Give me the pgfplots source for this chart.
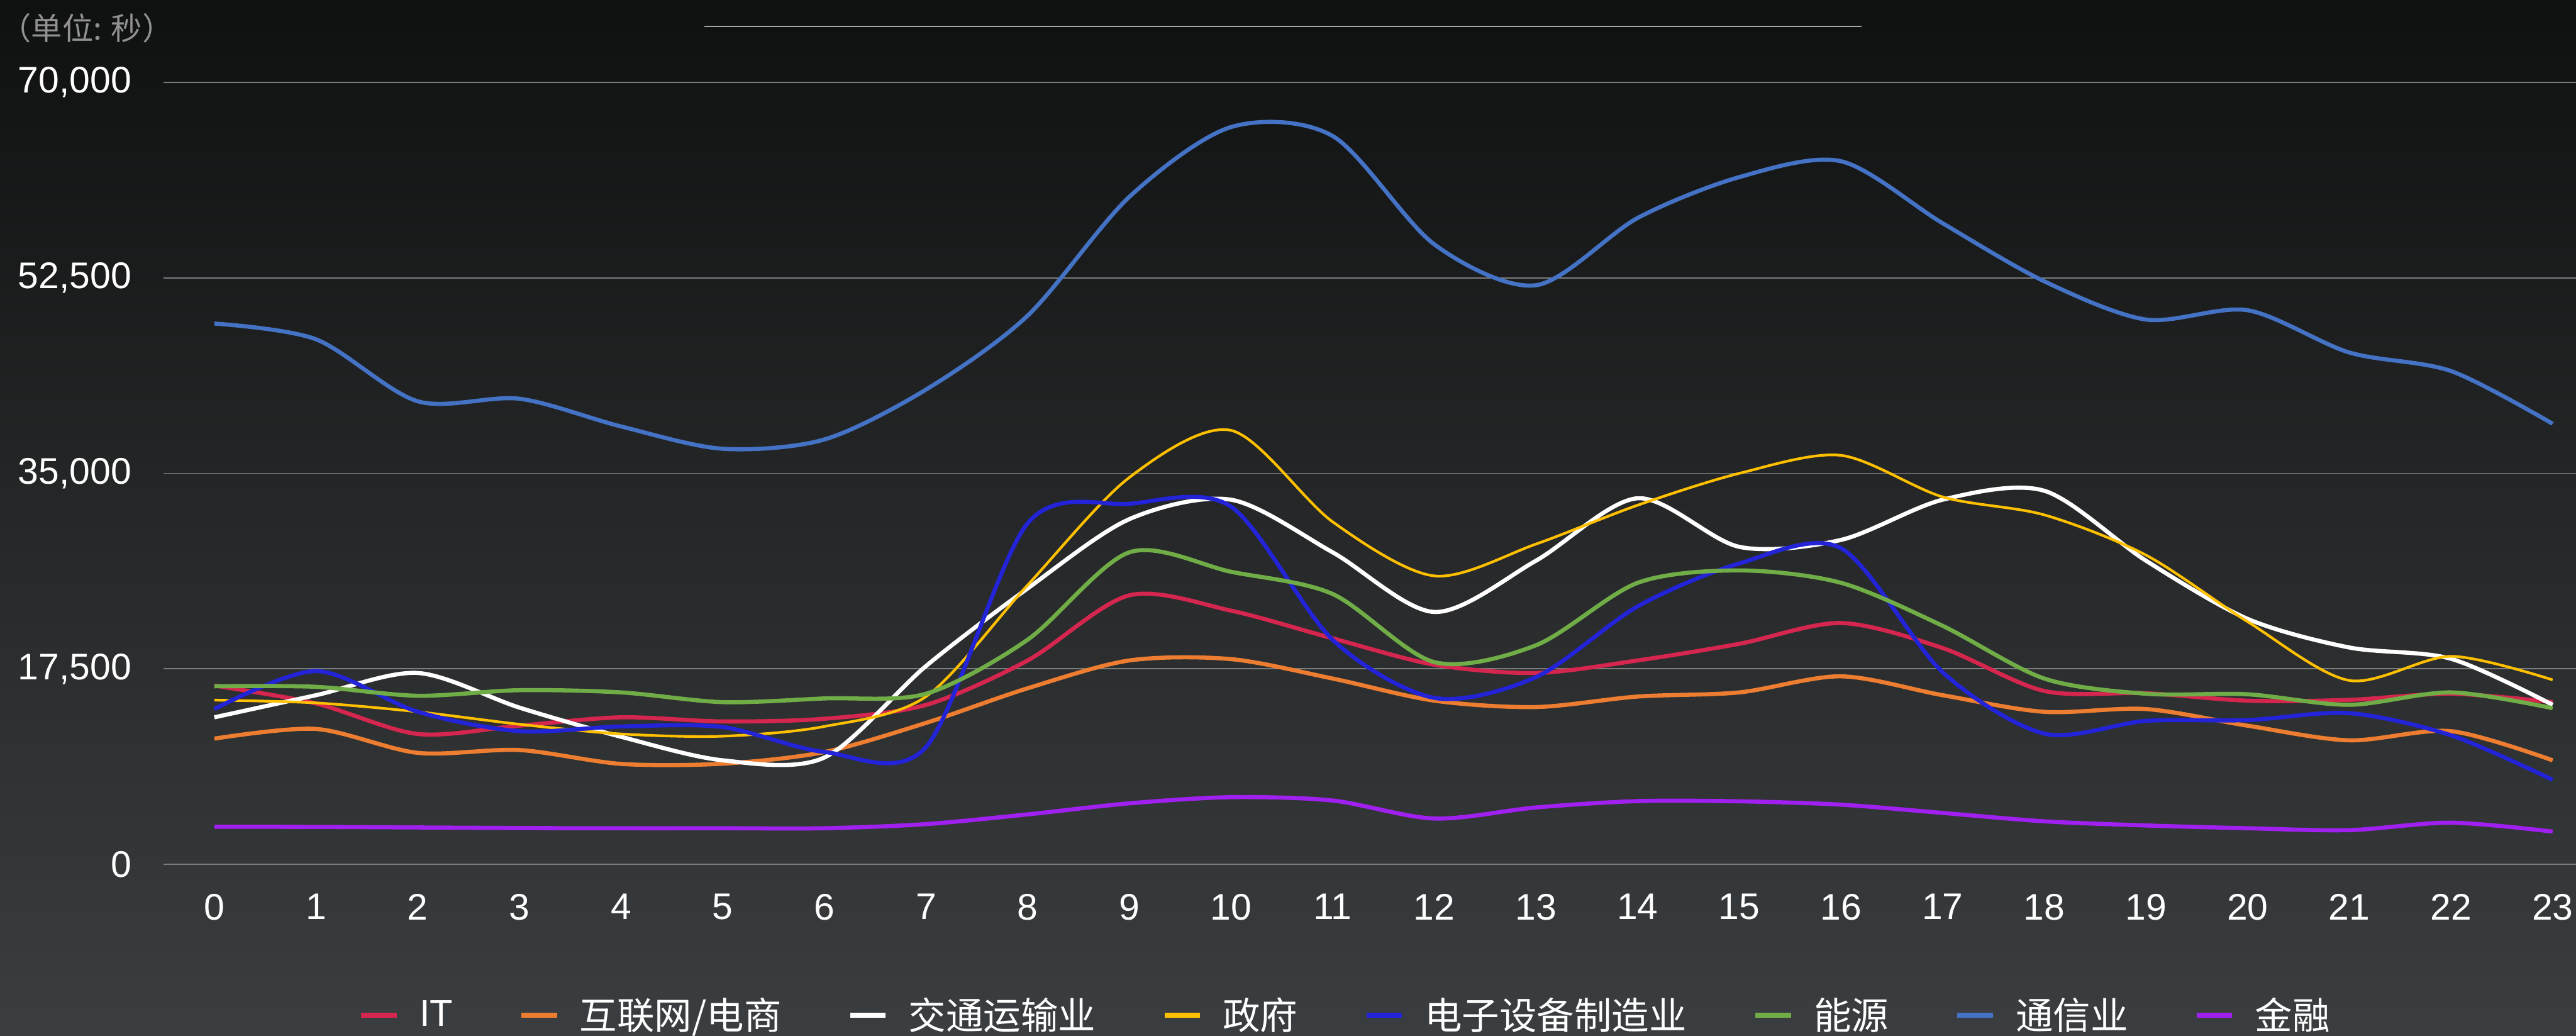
\documentclass[border=0pt]{standalone}
\usepackage{pgfplots}
\pgfplotsset{compat=1.18}
\usepackage{fontspec}
\setmainfont{Liberation Sans}
\newfontfamily\cjk{Noto Sans CJK SC}
\definecolor{cIT}{RGB}{212,38,78}
\definecolor{cNet}{RGB}{237,125,49}
\definecolor{cGov}{RGB}{255,192,0}
\definecolor{cElec}{RGB}{35,35,215}
\definecolor{cEng}{RGB}{112,173,71}
\definecolor{cTel}{RGB}{68,114,196}
\definecolor{cFin}{RGB}{160,32,240}
\definecolor{bgTop}{RGB}{15,16,16}
\definecolor{bgBot}{RGB}{59,62,64}
\definecolor{gridc}{RGB}{125,125,125}
\definecolor{unitc}{RGB}{145,145,145}
\begin{document}
\begin{tikzpicture}
\shade[top color=bgTop, bottom color=bgBot] (0,0) rectangle (43.79,17.60);
\node[anchor=west, inner sep=0pt, text=unitc, font=\cjk\fontsize{15}{18}\selectfont] at (0,17.12) {（单位: 秒）};
\draw[gray!70, line width=0.6pt] (11.97,17.15) -- (31.64,17.15);
\begin{axis}[
  at={(2.78cm,2.91cm)}, anchor=south west,
  scale only axis, width=41.01cm, height=13.29cm,
  xmin=-0.5, xmax=23.23, ymin=0, ymax=70000,
  xtick={0,...,23}, ytick={0,17500,35000,52500,70000},
  scaled y ticks=false,
  axis line style={draw=none},
  major tick length=0pt,
  ymajorgrids, grid style={gridc, line width=0.6pt},
  tick label style={text=white, font=\fontsize{17.9}{21}\selectfont, inner sep=0pt},
  /pgf/number format/assume math mode=true,
  yticklabel style={/pgf/number format/fixed, /pgf/number format/1000 sep={,}, xshift=-0.54cm},
  xticklabel style={anchor=north, yshift=-0.50cm},
  legend columns=-1,
  legend cell align=left,
  legend style={at={(axis description cs:0.081,-0.193)}, anchor=west,
    draw=none, fill=none, inner sep=0pt, outer sep=0pt,
    font=\fontsize{18.1}{21}\selectfont, text=white,
    nodes={inner sep=0pt},
    /tikz/every odd column/.append style={column sep=0.35cm},
    /tikz/every even column/.append style={column sep=1.13cm}},
  legend image code/.code={\draw[line width=0.08cm] (0cm,0cm) -- (0.6cm,0cm);},
  every axis plot/.append style={smooth, no markers, line width=0.07cm},
]
\addplot[cIT] coordinates {(0,16000)(1,14400)(2,11670)(3,12410)(4,13160)(5,12790)(6,13030)(7,14270)(8,18250)(9,24080)(10,22710)(11,20230)(12,17870)(13,17130)(14,18250)(15,19740)(16,21600)(17,19360)(18,15520)(19,15320)(20,14650)(21,14720)(22,15270)(23,14520)};
\addlegendentry{IT}
\addplot[cNet] coordinates {(0,11250)(1,12120)(2,9980)(3,10230)(4,8990)(5,9010)(6,10050)(7,12660)(8,15760)(9,18250)(10,18370)(11,16630)(12,14650)(13,14080)(14,15020)(15,15390)(16,16830)(17,15140)(18,13650)(19,13900)(20,12410)(21,11100)(22,11920)(23,9310)};
\addlegendentry{\cjk 互联网/电商}
\addplot[white] coordinates {(0,13160)(1,15140)(2,17130)(3,14030)(4,11420)(5,9310)(6,9560)(7,17750)(8,24700)(9,30900)(10,32640)(11,27930)(12,22590)(13,27180)(14,32770)(15,28420)(16,29040)(17,32640)(18,33440)(19,27180)(20,21970)(21,19410)(22,18400)(23,14280)};
\addlegendentry{\cjk 交通运输业}
\addplot[cGov, line width=0.045cm] coordinates {(0,14700)(1,14450)(2,13655)(3,12540)(4,11670)(5,11470)(6,12340)(7,15020)(8,25000)(9,34630)(10,38850)(11,30660)(12,25820)(13,28670)(14,32150)(15,35000)(16,36610)(17,32890)(18,31280)(19,27680)(20,21720)(21,16460)(22,18620)(23,16510)};
\addlegendentry{\cjk 政府}
\addplot[cElec] coordinates {(0,13900)(1,17300)(2,13660)(3,11920)(4,12340)(5,12290)(6,10060)(7,10500)(8,30530)(9,32270)(10,32020)(11,20100)(12,14900)(13,16760)(14,23090)(15,26930)(16,28300)(17,17200)(18,11700)(19,12840)(20,12910)(21,13530)(22,11550)(23,7570)};
\addlegendentry{\cjk 电子设备制造业}
\addplot[cEng] coordinates {(0,15940)(1,15890)(2,15090)(3,15590)(4,15390)(5,14520)(6,14850)(7,15270)(8,20110)(9,27930)(10,26190)(11,24200)(12,18100)(13,19610)(14,25200)(15,26310)(16,25200)(17,21350)(18,16630)(19,15270)(20,15220)(21,14280)(22,15390)(23,13980)};
\addlegendentry{\cjk 能源}
\addplot[cTel] coordinates {(0,48410)(1,47000)(2,41450)(3,41680)(4,39200)(5,37200)(6,38030)(7,42500)(8,49120)(9,59750)(10,66000)(11,65200)(12,55500)(13,51840)(14,57860)(15,61520)(16,62940)(17,57390)(18,52190)(19,48770)(20,49600)(21,45820)(22,44160)(23,39440)};
\addlegendentry{\cjk 通信业}
\addplot[cFin] coordinates {(0,3360)(1,3350)(2,3300)(3,3250)(4,3230)(5,3230)(6,3230)(7,3600)(8,4470)(9,5460)(10,6010)(11,5710)(12,4100)(13,5090)(14,5660)(15,5640)(16,5340)(17,4600)(18,3850)(19,3480)(20,3230)(21,3060)(22,3730)(23,2930)};
\addlegendentry{\cjk 金融}
\end{axis}
\pgfresetboundingbox
\useasboundingbox (0,0) rectangle (43.79,17.60);
\end{tikzpicture}
\end{document}
